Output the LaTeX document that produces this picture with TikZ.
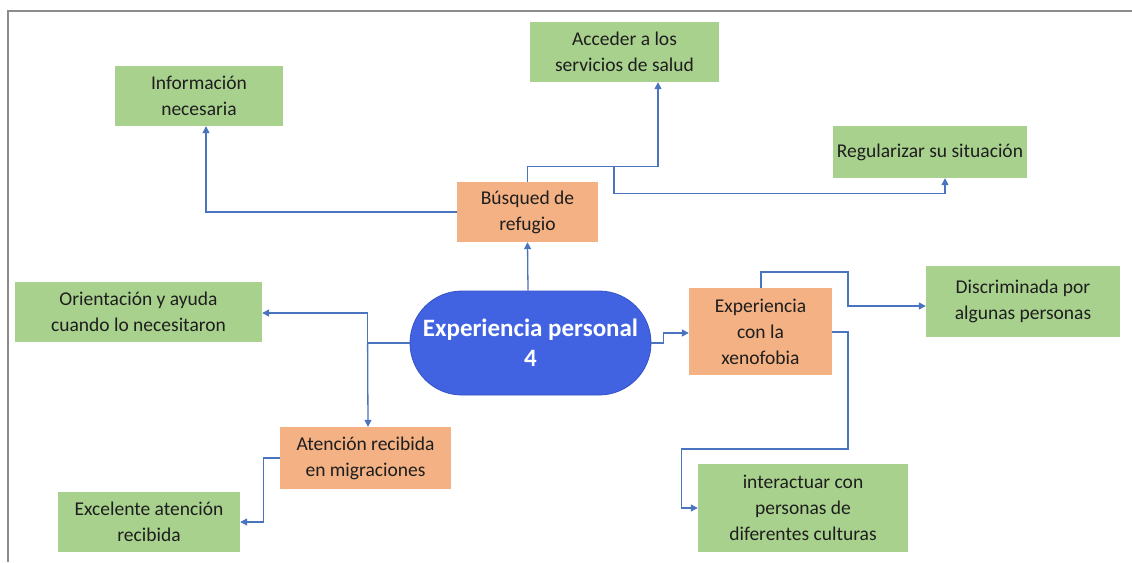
\documentclass[tikz,border=0pt]{standalone}
\usepackage{fontspec}
\setmainfont{Carlito}
\usetikzlibrary{arrows.meta}
\definecolor{gbox}{HTML}{A9D18E}
\definecolor{obox}{HTML}{F4B183}
\definecolor{bbox}{HTML}{4163E2}
\definecolor{bline}{HTML}{3352C8}
\definecolor{conncol}{HTML}{4A74BE}
\definecolor{framecol}{HTML}{8C8C8C}
\definecolor{txt}{HTML}{1E1E1E}
\tikzset{
  box/.style={rectangle, align=center, inner sep=2pt, text=txt,
    font=\fontsize{19.5}{26}\selectfont},
  gnode/.style={box, fill=gbox},
  onode/.style={box, fill=obox},
  conn/.style={draw=conncol, line width=1.3pt, -{Triangle[length=7pt,width=7pt]}},
  plain/.style={draw=conncol, line width=1.3pt}
}
\begin{document}
\begin{tikzpicture}[x=1pt,y=-1pt]
\useasboundingbox (0,0) rectangle (1132,562);
\fill[white] (0,0) rectangle (1132,562);
% frame
\draw[framecol, line width=2.2pt] (1132,11) -- (8,11) -- (8,562);

% nodes
\node[gnode, minimum width=168pt, minimum height=60pt] (info) at (199,96) {Información\\necesaria};
\node[gnode, minimum width=189pt, minimum height=60pt] (acceder) at (624.5,52) {Acceder a los\\servicios de salud};
\node[gnode, minimum width=194pt, minimum height=52pt] (regular) at (930,152) {Regularizar su situación};
\node[onode, minimum width=141pt, minimum height=60pt] (busq) at (527.5,212) {Búsqued de\\refugio};
\node[gnode, minimum width=247pt, minimum height=60pt] (orient) at (138.5,312) {Orientación y ayuda\\cuando lo necesitaron};
\node[rectangle, rounded corners=52pt, fill=bbox, draw=bline, line width=0.8pt,
      minimum width=241pt, minimum height=104pt, align=center, text=white,
      font=\fontsize{25}{30}\selectfont\bfseries] (exp) at (530.5,343) {Experiencia personal\\4};
\node[onode, minimum width=143pt, minimum height=87pt] (xeno) at (760.5,331.5) {Experiencia\\con la\\xenofobia};
\node[gnode, minimum width=194pt, minimum height=71pt] (discr) at (1023,301.5) {Discriminada por\\algunas personas};
\node[onode, minimum width=171pt, minimum height=62pt] (atenc) at (365.5,458) {Atención recibida\\en migraciones};
\node[gnode, minimum width=182pt, minimum height=60pt] (excel) at (149,522) {Excelente atención\\recibida};
\node[gnode, minimum width=210pt, minimum height=88pt] (inter) at (803,508) {interactuar con\\personas de\\diferentes culturas};

% connectors
\draw[conn] ([xshift=-2.5]exp.north) -- (busq.south);
\draw[conn] (busq.west) -| ([xshift=7]info.south);
\draw[conn] (busq.north) -- ++(0,-15) coordinate (j1) -| ([xshift=33.5]acceder.south);
\coordinate (j1b) at ([xshift=86.5]j1);
\draw[conn] (j1b) -- ++(0,27) -| ([xshift=15]regular.south);

\draw[plain] (exp.west) -- ++(-42,0) coordinate (j2);
\draw[conn] (j2) |- ([yshift=-1]orient.east);
\draw[conn] (j2) -- ([xshift=2.5]atenc.north);

\draw[conn] (exp.east) -- ++(12,0) |- ([yshift=-1.5]xeno.west);

\coordinate (k1) at (848,272);
\draw[conn] ([xshift=0.5]xeno.north) |- (k1) |- ([yshift=-4.5]discr.west);

\coordinate (k2) at (848,449);
\draw[conn] ([yshift=-0.5]xeno.east) -| (k2) -| ([xshift=-16]inter.west) -- (inter.west);

\draw[conn] (atenc.west) -- ++(-16,0) |- (excel.east);
\end{tikzpicture}
\end{document}
